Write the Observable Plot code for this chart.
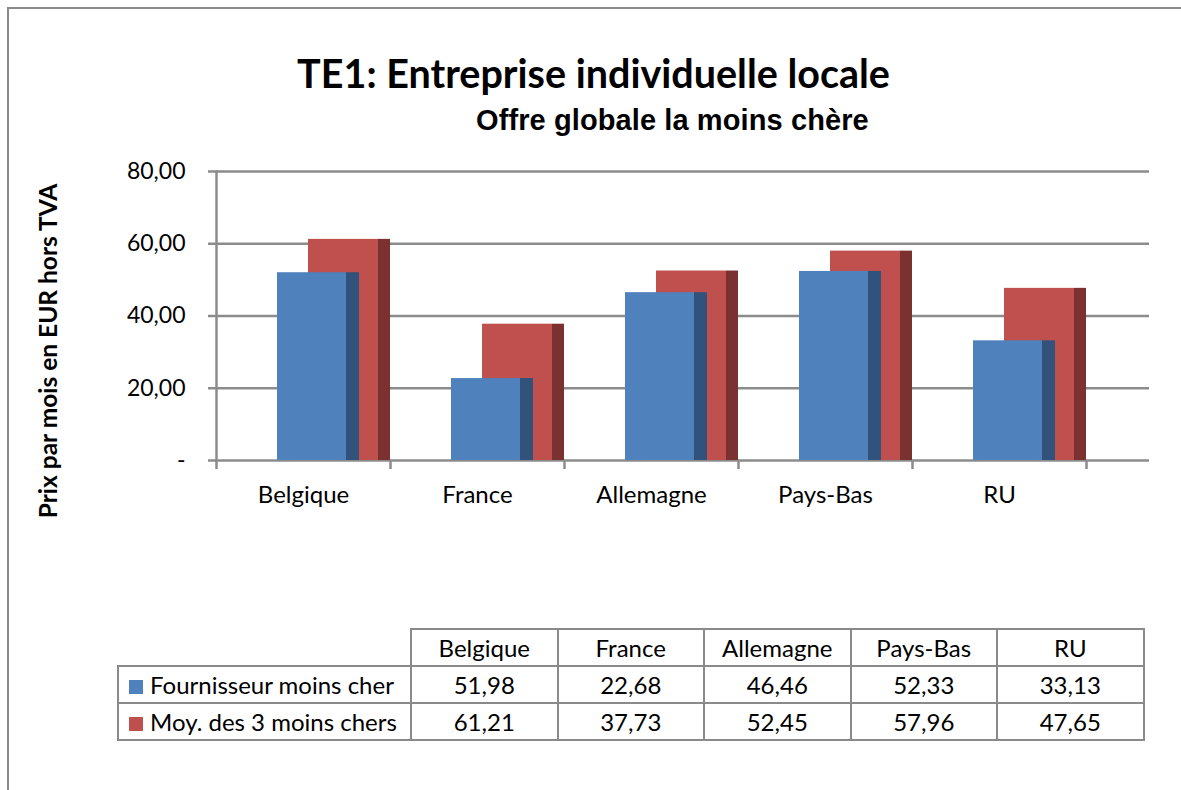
<!DOCTYPE html>
<html>
<head>
<meta charset="utf-8">
<script src="https://cdn.jsdelivr.net/npm/d3@7"></script>
<script src="https://cdn.jsdelivr.net/npm/@observablehq/plot@0.6"></script>
<style>
  html, body { margin: 0; padding: 0; background: #fff; }
  #page { position: relative; width: 1181px; height: 790px; overflow: hidden; background: #fff; font-family: Lato, "Open Sans", sans-serif; color: #000; }
  #frame { position: absolute; left: 7px; top: 7px; width: 1300px; height: 900px; border: 2px solid #8a8a8a; }
  #title { position: absolute; left: 0; width: 1181px; top: 49px; text-align: center; font: bold 39.5px Lato, sans-serif; padding-left: 6px; box-sizing: border-box; white-space: nowrap; }
  #subtitle { position: absolute; left: 476px; top: 104px; font: bold 29px "Liberation Sans", Arial, sans-serif; white-space: nowrap; letter-spacing: 0.1px; }
  #ytitle { position: absolute; left: 47px; top: 351px; transform: translate(-50%, -50%) rotate(-90deg); font: bold 24.5px Lato, sans-serif; white-space: nowrap; }
  #chart { position: absolute; left: 0; top: 0; }
  #tbl { position: absolute; left: 117px; top: 628px; border-collapse: collapse; font: 24px Lato, sans-serif; }
  #tbl td { border: 2px solid #8a8a8a; text-align: center; padding: 0; height: 35px; line-height: 33px; }
  #tbl td.leg { text-align: left; padding-left: 10px; width: 281px; white-space: nowrap; }
  #tbl td.val { width: 144.5px; }
  #tbl td.empty { border: none; }
  .sw { display: inline-block; width: 14px; height: 14px; margin-right: 7px; vertical-align: 0px; }
</style>
</head>
<body>
<div id="page">
  <div id="frame"></div>
  <div id="title"></div>
  <div id="subtitle"></div>
  <div id="ytitle"></div>
  <div id="chart"></div>
  <table id="tbl"></table>
</div>
<script>
const titleText = "TE1: Entreprise individuelle locale";
const subtitleText = "Offre globale la moins chère";
const yTitle = "Prix par mois en EUR hors TVA";
const countries = ["Belgique", "France", "Allemagne", "Pays-Bas", "RU"];
const seriesNames = ["Fournisseur moins cher", "Moy. des 3 moins chers"];
const cheapest = [51.98, 22.68, 46.46, 52.33, 33.13];
const avg3 = [61.21, 37.73, 52.45, 57.96, 47.65];
const yTicks = [0, 20, 40, 60, 80];
const colors = { blue: "#4F81BD", blueSide: "#31527A", red: "#C0504D", redSide: "#7B3130" };

document.getElementById("title").textContent = titleText;
document.getElementById("subtitle").textContent = subtitleText;
document.getElementById("ytitle").textContent = yTitle;

const fmt = v => v === 0 ? "-" : v.toFixed(2).replace(".", ",");

const dataBlue = countries.map((c, i) => ({ country: c, value: cheapest[i] }));
const dataRed = countries.map((c, i) => ({ country: c, value: avg3[i] }));

const xRange = [216, 1086];
const bw = (xRange[1] - xRange[0]) / countries.length;
const grid = "#8c8c8c";

const chart = Plot.plot({
  width: 1181,
  height: 520,
  marginLeft: 216,
  marginRight: 32,
  marginTop: 171,
  marginBottom: 60,
  style: { background: "transparent", fontFamily: "Lato, sans-serif", fontSize: "23px", color: "#000" },
  x: { type: "band", domain: countries, range: xRange, padding: 0, label: null },
  y: { domain: [0, 80], ticks: yTicks, label: null },
  marks: [
    Plot.ruleY(yTicks, { stroke: grid, strokeWidth: 2.5 }),
    Plot.frame({ anchor: "left", stroke: grid, strokeWidth: 2.5 }),
    // red series (behind)
    Plot.rectY(dataRed, { x: "country", y: "value", fill: colors.red, insetLeft: 92, insetRight: 12 }),
    Plot.rectY(dataRed, { x: "country", y: "value", fill: colors.redSide, insetLeft: 162, insetRight: 0 }),
    // blue series (front)
    Plot.rectY(dataBlue, { x: "country", y: "value", fill: colors.blue, insetLeft: 61, insetRight: 44 }),
    Plot.rectY(dataBlue, { x: "country", y: "value", fill: colors.blueSide, insetLeft: 130, insetRight: 31 }),
    Plot.axisY({ ticks: yTicks, tickFormat: fmt, tickSize: 8, tickPadding: 23, stroke: grid, strokeWidth: 2.5, label: null, fontSize: 23 }),
    Plot.axisX({ tickSize: 9, tickFormat: () => "", dx: -bw / 2, stroke: grid, strokeWidth: 2.5, label: null }),
    Plot.axisX({ ticks: countries.slice(-1), tickSize: 9, tickFormat: () => "", dx: bw / 2, stroke: grid, strokeWidth: 2.5, label: null }),
    Plot.axisX({ tickSize: 0, tickPadding: 25, label: null, fontSize: 24 })
  ]
});
document.getElementById("chart").appendChild(chart);

// data table / legend below chart
const tbl = document.getElementById("tbl");
const head = document.createElement("tr");
head.innerHTML = `<td class="empty"></td>` + countries.map(c => `<td class="val">${c}</td>`).join("");
tbl.appendChild(head);
[[cheapest, colors.blue], [avg3, colors.red]].forEach(([vals, col], k) => {
  const tr = document.createElement("tr");
  tr.innerHTML = `<td class="leg"><span class="sw" style="background:${col}"></span>${seriesNames[k]}</td>` +
    vals.map(v => `<td class="val">${fmt(v)}</td>`).join("");
  tbl.appendChild(tr);
});
</script>
</body>
</html>
